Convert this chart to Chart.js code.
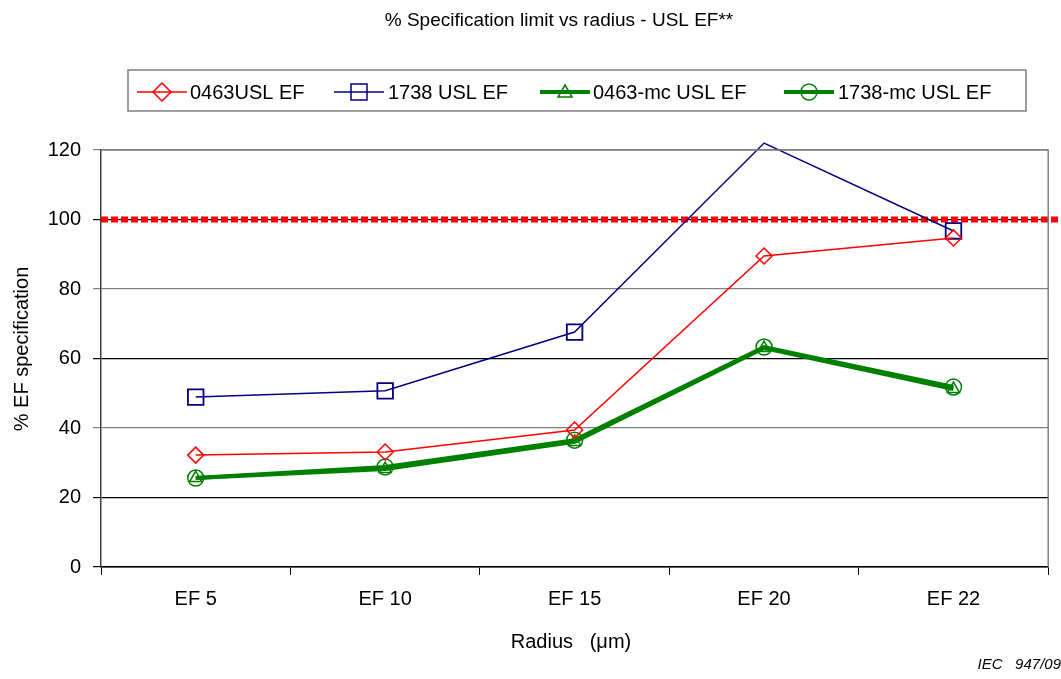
<!DOCTYPE html>
<html>
<head>
<meta charset="utf-8">
<script src="https://cdn.jsdelivr.net/npm/chart.js@4/dist/chart.umd.min.js"></script>
<style>
  body { margin: 0; background: #fff; }
</style>
</head>
<body>
<canvas id="chart" width="1061" height="679"></canvas>
<script>
// data
const radiusLabels = ['EF 5', 'EF 10', 'EF 15', 'EF 20', 'EF 22'];
const usl0463 = [32.2, 33.1, 39.4, 89.5, 94.7];
const usl1738 = [48.9, 50.7, 67.6, 122, 96.7];
const usl0463mc = [25.6, 28.2, 36.0, 63.0, 51.2];
const usl1738mc = [25.6, 28.8, 36.5, 63.3, 51.8];
const specLimit = 100;
const yTicks = [0, 20, 40, 60, 80, 100, 120];
const yMax = 120;

const FONT = '"Liberation Sans", Arial, sans-serif';

const legendItems = [
    { text: '0463USL EF', color: '#ff0000', width: 1.5, style: 'diamond', x0: 137, x1: 187, tx: 190 },
    { text: '1738 USL EF', color: '#000080', width: 1.5, style: 'square', x0: 334, x1: 384, tx: 388 },
    { text: '0463-mc USL EF', color: '#008000', width: 4, style: 'triangle', x0: 540, x1: 590, tx: 593 },
    { text: '1738-mc USL EF', color: '#008000', width: 4, style: 'circle', x0: 784, x1: 834, tx: 838 }
];

function drawMarker(c, style, x, y, color) {
    c.save();
    c.strokeStyle = color;
    c.lineWidth = 1.5;
    c.beginPath();
    if (style === 'diamond') {
        c.moveTo(x, y - 9); c.lineTo(x + 9, y); c.lineTo(x, y + 9); c.lineTo(x - 9, y); c.closePath();
    } else if (style === 'square') {
        c.rect(x - 8, y - 8, 16, 16);
    } else if (style === 'triangle') {
        c.moveTo(x, y - 7); c.lineTo(x + 7, y + 5); c.lineTo(x - 7, y + 5); c.closePath();
    } else {
        c.arc(x, y, 8, 0, Math.PI * 2);
    }
    c.stroke();
    c.restore();
}

const decorPlugin = {
    id: 'decor',
    beforeDatasetsDraw(chart) {
        const c = chart.ctx;
        const area = chart.chartArea;
        const y = chart.scales.y.getPixelForValue(specLimit);
        c.save();
        c.strokeStyle = '#ff0000';
        c.lineWidth = 6;
        c.setLineDash([7, 3]);
        c.beginPath();
        c.moveTo(area.left, y);
        c.lineTo(chart.width, y);
        c.stroke();
        c.restore();
    },
    afterDraw(chart) {
        const c = chart.ctx;
        const area = chart.chartArea;
        c.save();
        // plot border top / right
        c.strokeStyle = '#808080';
        c.lineWidth = 1.5;
        c.beginPath();
        c.moveTo(area.left, area.top);
        c.lineTo(area.right, area.top);
        c.lineTo(area.right, area.bottom);
        c.stroke();

        // title
        c.fillStyle = '#000';
        c.font = '19px ' + FONT;
        c.textAlign = 'center';
        c.textBaseline = 'middle';
        c.fillText('% Specification limit vs radius - USL EF**', 559, 21);

        // legend
        c.strokeStyle = '#808080';
        c.lineWidth = 1.5;
        c.strokeRect(128, 70, 898, 41);
        c.font = '20px ' + FONT;
        c.textAlign = 'left';
        legendItems.forEach(it => {
            c.strokeStyle = it.color;
            c.lineWidth = it.width;
            c.beginPath();
            c.moveTo(it.x0, 92);
            c.lineTo(it.x1, 92);
            c.stroke();
            drawMarker(c, it.style, (it.x0 + it.x1) / 2, 92, it.color);
            c.fillStyle = '#000';
            c.fillText(it.text, it.tx, 93);
        });

        // axis titles
        c.font = '20px ' + FONT;
        c.textAlign = 'center';
        c.fillText('Radius   (\u03bcm)', 571, 642);
        c.save();
        c.translate(22, 349);
        c.rotate(-Math.PI / 2);
        c.fillText('% EF specification', 0, 0);
        c.restore();

        // footer
        c.font = 'italic 15px ' + FONT;
        c.textAlign = 'right';
        c.fillText('IEC   947/09', 1061, 665);
        c.restore();
    }
};

const ctx = document.getElementById('chart').getContext('2d');
new Chart(ctx, {
    type: 'line',
    data: {
        labels: radiusLabels,
        datasets: [
            {
                label: '0463USL EF',
                data: usl0463,
                borderColor: '#ff0000',
                borderWidth: 1.5,
                pointStyle: 'rectRot',
                pointRadius: 8,
                pointBorderWidth: 1.5,
                pointBackgroundColor: 'transparent',
                pointBorderColor: '#ff0000'
            },
            {
                label: '1738 USL EF',
                data: usl1738,
                borderColor: '#000080',
                borderWidth: 1.5,
                pointStyle: 'rect',
                // markers above the axis maximum are clipped away in the original
                pointRadius: c => (c.raw > yMax ? 0 : 11),
                pointBorderWidth: 1.8,
                pointBackgroundColor: 'transparent',
                pointBorderColor: '#000080',
                clip: false
            },
            {
                label: '0463-mc USL EF',
                data: usl0463mc,
                borderColor: '#008000',
                borderWidth: 4,
                pointStyle: 'triangle',
                pointRadius: 7,
                pointBorderWidth: 1.5,
                pointBackgroundColor: 'transparent',
                pointBorderColor: '#008000'
            },
            {
                label: '1738-mc USL EF',
                data: usl1738mc,
                borderColor: '#008000',
                borderWidth: 4,
                pointStyle: 'circle',
                pointRadius: 8,
                pointBorderWidth: 1.5,
                pointBackgroundColor: 'transparent',
                pointBorderColor: '#008000'
            }
        ]
    },
    options: {
        responsive: false,
        animation: false,
        layout: { padding: { top: 150, right: 7, left: 0, bottom: 0 } },
        plugins: {
            legend: { display: false },
            title: { display: false },
            tooltip: { enabled: false }
        },
        scales: {
            x: {
                offset: true,
                afterFit: s => { s.height = 112; s.paddingRight = 0; },
                grid: {
                    offset: true,
                    drawOnChartArea: false,
                    color: '#000',
                    tickLength: 8,
                    lineWidth: 1
                },
                border: { color: '#000', width: 1.5 },
                ticks: {
                    color: '#000',
                    padding: 12,
                    font: { family: FONT, size: 20 }
                }
            },
            y: {
                min: 0,
                max: yMax,
                afterFit: s => { s.width = 101; },
                afterBuildTicks: s => { s.ticks = yTicks.map(v => ({ value: v })); },
                grid: {
                    color: c => (c.tick && (c.tick.value === 120 || c.tick.value === 80 || c.tick.value === 40)) ? '#808080' : '#000',
                    lineWidth: 1.2,
                    tickLength: 8
                },
                border: { color: '#404040', width: 1.5 },
                ticks: {
                    color: '#000',
                    padding: 12,
                    font: { family: FONT, size: 20 }
                }
            }
        }
    },
    plugins: [decorPlugin]
});
</script>
</body>
</html>
